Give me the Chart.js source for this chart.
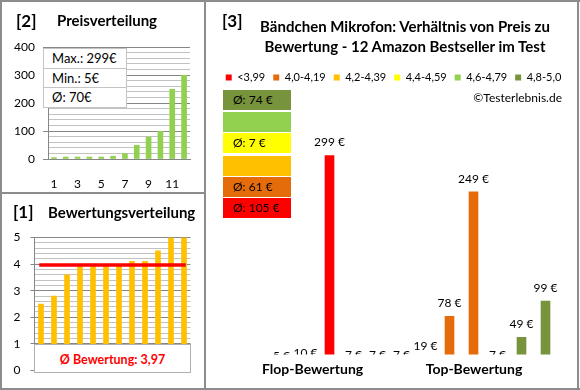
<!DOCTYPE html>
<html>
<head>
<meta charset="utf-8">
<script src="https://cdn.jsdelivr.net/npm/chart.js@4.4.1/dist/chart.umd.min.js"></script>
<style>
  body { margin: 0; width: 580px; height: 390px; position: relative; background: #fff; overflow: hidden; font-family: Lato, sans-serif; color: #000; }
  .abs { position: absolute; white-space: nowrap; }
  .line { position: absolute; background: #8c8c8c; }
  .bold { font-weight: bold; }
  .info { position: absolute; left: 43px; top: 48px; width: 84px; background: #fff; border: 1px solid #c4c4c4; box-sizing: border-box; }
  .info div { height: 18.5px; line-height: 18.5px; padding-left: 8px; font-size: 13px; border-top: 1px solid #c4c4c4; }
  .info div:first-child { border-top: none; }
  .avg { position: absolute; left: 223px; width: 68px; height: 20px; line-height: 20px; font-size: 12px; padding-left: 10px; box-sizing: border-box; }
</style>
</head>
<body>
<canvas id="priceChart" class="abs" style="left:0;top:0" width="204" height="192"></canvas>
<canvas id="ratingChart" class="abs" style="left:0;top:194px" width="204" height="195"></canvas>
<canvas id="mainChart" class="abs" style="left:207px;top:0" width="373" height="390"></canvas>

<div class="line" style="left:0;top:0;width:580px;height:2px"></div>
<div class="line" style="left:0;top:388px;width:580px;height:2px"></div>
<div class="line" style="left:0;top:0;width:2px;height:390px"></div>
<div class="line" style="left:577px;top:0;width:2px;height:390px"></div>
<div class="line" style="left:204px;top:0;width:2px;height:390px"></div>
<div class="line" style="left:0;top:192px;width:205px;height:2px"></div>

<div class="abs bold" style="left:16px;top:10px;font-size:17px;line-height:22px">[2]</div>
<div class="abs bold" style="left:57px;top:11px;font-size:15px;line-height:18px">Preisverteilung</div>
<div class="abs bold" style="left:13px;top:201px;font-size:17px;line-height:22px">[1]</div>
<div class="abs bold" style="left:48px;top:203px;font-size:15px;line-height:18px">Bewertungsverteilung</div>
<div class="abs bold" style="left:222px;top:10px;font-size:17px;line-height:22px">[3]</div>
<div class="abs bold" style="left:255px;top:16px;width:300px;text-align:center;font-size:15px;line-height:20px">Bändchen Mikrofon: Verhältnis von Preis zu<br>Bewertung - 12 Amazon Bestseller im Test</div>
<div class="abs" style="left:462px;top:90px;width:100px;text-align:right;font-size:12px;line-height:16px">©Testerlebnis.de</div>
<div class="abs bold" style="left:262px;top:360px;width:100px;text-align:center;font-size:14px;line-height:18px">Flop-Bewertung</div>
<div class="abs bold" style="left:424px;top:360px;width:100px;text-align:center;font-size:14px;line-height:18px">Top-Bewertung</div>

<div class="info" id="info"></div>
<div class="abs" id="ratingBox" style="left:34px;top:344px;width:157px;height:29px;line-height:29px;text-align:center;background:#fff;border:1px solid #b0b0b0;box-sizing:border-box;color:#ff0000;font-weight:bold;font-size:12.5px"></div>
<div id="avgBoxes"></div>

<script>
// Produkte sortiert von Flop nach Top
const products = ['1', '2', '3', '4', '5', '6', '7', '8', '9', '10', '11', '12'];
const prices = [5, 10, 299, 7, 7, 7, 19, 78, 249, 7, 49, 99];
const ratings = [2.5, 2.8, 3.6, 4.0, 4.0, 4.0, 4.0, 4.1, 4.1, 4.5, 5.0, 5.0];
const bucketIdx = [0, 0, 0, 1, 1, 1, 1, 1, 1, 3, 5, 5];

const buckets = ['<3,99', '4,0-4,19', '4,2-4,39', '4,4-4,59', '4,6-4,79', '4,8-5,0'];
const bucketColors = ['#ff0000', '#e46c0a', '#ffc000', '#ffff00', '#92d050', '#77933c'];

const priceTicks = [0, 100, 200, 300, 400];
const ratingTicks = [0, 1, 2, 3, 4, 5];

Chart.defaults.font.family = 'Lato';
Chart.defaults.color = '#000';
Chart.defaults.animation = false;

const fmt = n => String(n).replace('.', ',');

// --- [2] Preisverteilung ---
const sortedPrices = prices.slice().sort((a, b) => a - b);
const avgPrice = Math.round(prices.reduce((s, p) => s + p, 0) / prices.length);
document.getElementById('info').innerHTML =
    '<div>Max.: ' + Math.max(...prices) + '€</div>' +
    '<div>Min.: ' + Math.min(...prices) + '€</div>' +
    '<div>Ø: ' + avgPrice + '€</div>';

const major = '#868686', minor = '#c2c2c2';

new Chart('priceChart', {
    type: 'bar',
    data: {
        labels: products,
        datasets: [{ data: sortedPrices, backgroundColor: '#92d050', barThickness: 5 }]
    },
    options: {
        responsive: false,
        devicePixelRatio: 1,
        layout: { padding: { top: 47, right: 14, left: 0, bottom: 0 } },
        plugins: { legend: { display: false }, tooltip: { enabled: false } },
        scales: {
            x: {
                grid: { display: false },
                border: { color: major },
                ticks: {
                    autoSkip: false, maxRotation: 0, padding: 10, font: { size: 12 },
                    callback: (v, i) => (i % 2 === 0 ? products[i] : '')
                },
                afterFit: s => { s.height = 33; }
            },
            y: {
                min: priceTicks[0], max: priceTicks[priceTicks.length - 1],
                ticks: {
                    stepSize: 20, autoSkip: false, padding: 8, font: { size: 12 },
                    callback: v => (priceTicks.includes(v) ? v : '')
                },
                grid: {
                    color: c => (priceTicks.includes(c.tick.value) ? major : minor),
                    tickColor: c => (priceTicks.includes(c.tick.value) ? major : 'rgba(0,0,0,0)'),
                    tickLength: 5
                },
                border: { color: major },
                afterFit: s => { s.width = 48; }
            }
        }
    }
});

// --- [1] Bewertungsverteilung ---
const avgRating = ratings.reduce((s, r) => s + r, 0) / ratings.length;
document.getElementById('ratingBox').textContent = 'Ø Bewertung: ' + fmt(avgRating.toFixed(2));
const isWhole = v => Math.abs(v - Math.round(v)) < 1e-6;

new Chart('ratingChart', {
    data: {
        labels: products,
        datasets: [
            { type: 'line', data: ratings.map(() => avgRating), borderColor: '#ff0000', borderWidth: 3.5,
              pointRadius: 0, borderCapStyle: 'square', order: 0 },
            { type: 'bar', data: ratings, backgroundColor: '#ffc000', barThickness: 5, order: 1 }
        ]
    },
    options: {
        responsive: false,
        devicePixelRatio: 1,
        layout: { padding: { top: 43.5, right: 13.5, left: 0, bottom: 18.5 } },
        plugins: { legend: { display: false }, tooltip: { enabled: false } },
        scales: {
            x: { display: false },
            y: {
                min: ratingTicks[0], max: ratingTicks[ratingTicks.length - 1],
                ticks: {
                    stepSize: 0.2, autoSkip: false, padding: 10, font: { size: 12 },
                    callback: v => (isWhole(v) ? Math.round(v) : '')
                },
                grid: {
                    color: c => (isWhole(c.tick.value) ? major : minor),
                    tickColor: c => (isWhole(c.tick.value) ? major : 'rgba(0,0,0,0)'),
                    tickLength: 4
                },
                border: { color: major },
                afterFit: s => { s.width = 34.5; }
            }
        }
    }
});

// --- [3] Preis zu Bewertung ---
const avgBox = document.getElementById('avgBoxes');
const boxTops = [90, 112, 133, 156, 177, 198];
for (let b = buckets.length - 1; b >= 0; b--) {
    const inB = prices.filter((p, i) => bucketIdx[i] === b);
    const d = document.createElement('div');
    d.className = 'avg';
    d.style.top = boxTops[buckets.length - 1 - b] + 'px';
    d.style.background = bucketColors[b];
    d.textContent = inB.length ? 'Ø: ' + Math.round(inB.reduce((s, p) => s + p, 0) / inB.length) + ' €' : '';
    avgBox.appendChild(d);
}

const priceLabels = {
    id: 'priceLabels',
    afterDatasetsDraw(chart) {
        const { ctx, chartArea: a } = chart;
        const y = chart.scales.y;
        ctx.save();
        ctx.beginPath();
        ctx.rect(0, 0, chart.width, a.bottom);
        ctx.clip();
        ctx.font = '12px Lato';
        ctx.fillStyle = '#000';
        ctx.textAlign = 'center';
        ctx.textBaseline = 'middle';
        chart.data.datasets.forEach((ds, i) => {
            chart.getDatasetMeta(i).data.forEach((bar, j) => {
                const v = ds.data[j];
                if (v == null) return;
                ctx.fillText(v + ' €', bar.x, y.getPixelForValue(v) - 13);
            });
        });
        ctx.restore();
    }
};

new Chart('mainChart', {
    type: 'bar',
    data: {
        labels: products,
        datasets: buckets.map((name, b) => ({
            label: name,
            data: prices.map((p, i) => (bucketIdx[i] === b ? p : null)),
            backgroundColor: bucketColors[b],
            borderWidth: 0,
            barThickness: 9,
            grouped: false
        }))
    },
    options: {
        responsive: false,
        devicePixelRatio: 1,
        layout: { padding: { top: 64 } },
        plugins: {
            tooltip: { enabled: false },
            legend: {
                position: 'top',
                labels: { boxWidth: 6, boxHeight: 6, padding: 8, font: { size: 11 }, color: '#000' }
            }
        },
        scales: {
            x: {
                ticks: { display: false }, grid: { display: false }, border: { display: false },
                afterFit: s => { s.height = 35.5; }
            },
            y: {
                min: 25.5, max: 385,
                ticks: { display: false }, grid: { display: false }, border: { display: false },
                afterFit: s => { s.width = 62.5; }
            },
            y2: {
                position: 'right',
                ticks: { display: false }, grid: { display: false }, border: { display: false },
                afterFit: s => { s.width = 22.5; }
            }
        }
    },
    plugins: [priceLabels]
});
</script>
</body>
</html>
